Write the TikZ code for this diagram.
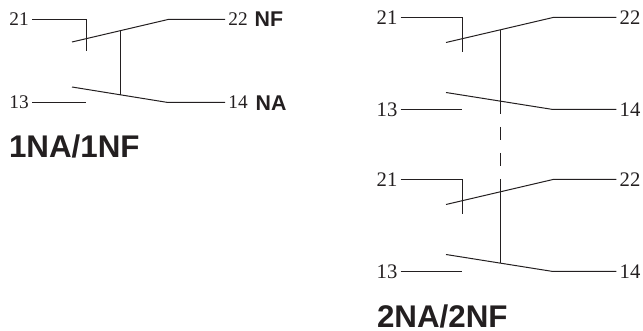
\documentclass[tikz,border=0pt]{standalone}
\usepackage{fontspec}
\setmainfont{Liberation Serif}
\newfontfamily\labelsans{Liberation Sans}
\usetikzlibrary{positioning}
\definecolor{inkColor}{HTML}{231F20}
\tikzset{
	pin/.style={inner sep=2.5pt,outer sep=0,font=\fontsize{15.5}{15.5}\selectfont},
	pinsmall/.style={inner sep=2.5pt,outer sep=0,font=\fontsize{14.5}{14.5}\selectfont},
	kind/.style={inner sep=0,outer sep=0,font=\labelsans\bfseries\fontsize{16}{16}\selectfont},
	title/.style={inner sep=0,outer sep=0,anchor=west,font=\labelsans\bfseries\fontsize{23.5}{23.5}\selectfont}
}

\begin{document}
\begin{tikzpicture}[x=0.75pt,y=-0.75pt,line width=0.75pt,color=inkColor]
	\useasboundingbox (0,0) rectangle (643,331);

	% 1NA/1NF
	\node[pinsmall] (a21) at (19, 19.5) {21};
	\node[pinsmall] (a22) at (238, 19.5) {22};
	\node[pinsmall] (a13) at (19, 102.5) {13};
	\node[pinsmall] (a14) at (238, 102.5) {14};
	\node[kind, right=2.8pt of a22] (aNF) {NF};
	\node[kind, right=3.5pt of a14, yshift=-0.75pt] (aNA) {NA};
	\node[title] (aT) at (9, 146) {1NA/1NF};
	\coordinate (a21k) at (86, 19.5);
	\coordinate (a21e) at (86, 51);
	\coordinate (a22f) at (72, 42);
	\coordinate (a22k) at (168, 19.5);
	\coordinate (a13e) at (86, 102.5);
	\coordinate (a14f) at (72, 87);
	\coordinate (a14k) at (168, 102.5);
	\coordinate (aUp) at (120.5, 30.6);
	\coordinate (aDn) at (120.5, 94.8);
	\draw (a21) -- (a21k) -- (a21e);
	\draw (a22f) -- (a22k) -- (a22);
	\draw (a13) -- (a13e);
	\draw (a14f) -- (a14k) -- (a14);
	\draw (aUp) -- (aDn);

	% 2NA/2NF, upper
	\node[pin] (b21) at (387, 17.5) {21};
	\node[pin] (b22) at (630, 17.5) {22};
	\node[pin] (b13) at (387, 109.5) {13};
	\node[pin] (b14) at (630, 109.5) {14};
	\coordinate (b21k) at (462, 17.5);
	\coordinate (b21e) at (462, 52);
	\coordinate (b22f) at (446, 42.5);
	\coordinate (b22k) at (553, 17.5);
	\coordinate (b13e) at (462, 109.5);
	\coordinate (b14f) at (446, 92.5);
	\coordinate (b14k) at (553, 109.5);
	\coordinate (bUp) at (500, 30);
	\coordinate (bDn) at (500, 114);
	\draw (b21) -- (b21k) -- (b21e);
	\draw (b22f) -- (b22k) -- (b22);
	\draw (b13) -- (b13e);
	\draw (b14f) -- (b14k) -- (b14);
	\draw (bUp) -- (bDn);

	% link
	\coordinate (dashA) at (500, 127);
	\coordinate (dashB) at (500, 140);
	\coordinate (dashC) at (500, 153);
	\coordinate (dashD) at (500, 166);
	\draw (dashA) -- (dashB);
	\draw (dashC) -- (dashD);

	% 2NA/2NF, lower
	\node[pin] (c21) at (387, 179.5) {21};
	\node[pin] (c22) at (630, 179.5) {22};
	\node[pin] (c13) at (387, 271.5) {13};
	\node[pin] (c14) at (630, 271.5) {14};
	\node[title] (cT) at (377, 316) {2NA/2NF};
	\coordinate (c21k) at (462, 179.5);
	\coordinate (c21e) at (462, 214);
	\coordinate (c22f) at (446, 204.5);
	\coordinate (c22k) at (553, 179.5);
	\coordinate (c13e) at (462, 271.5);
	\coordinate (c14f) at (446, 254.5);
	\coordinate (c14k) at (553, 271.5);
	\coordinate (cUp) at (500, 179);
	\coordinate (cDn) at (500, 263);
	\draw (c21) -- (c21k) -- (c21e);
	\draw (c22f) -- (c22k) -- (c22);
	\draw (c13) -- (c13e);
	\draw (c14f) -- (c14k) -- (c14);
	\draw (cUp) -- (cDn);
\end{tikzpicture}
\end{document}
